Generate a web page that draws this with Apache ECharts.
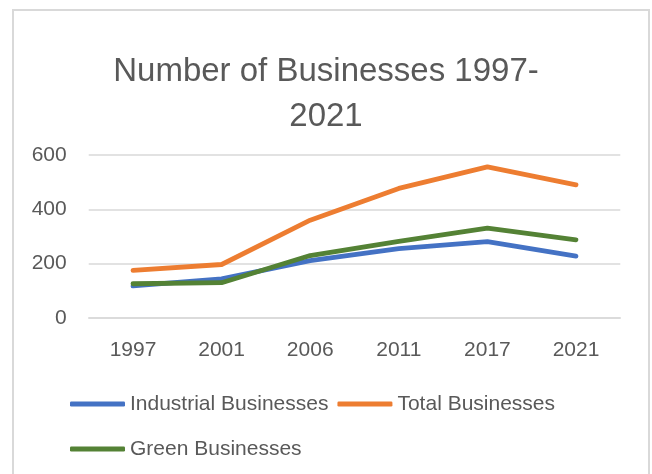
<!DOCTYPE html>
<html>
<head>
<meta charset="utf-8">
<style>
  html, body { margin: 0; padding: 0; background: #ffffff; }
  #chart { width: 652px; height: 474px; }
</style>
<script src="https://cdn.jsdelivr.net/npm/echarts@6/dist/echarts.min.js"></script>
</head>
<body>
<div id="chart"></div>
<script>
// Survey years on the category axis
const years = ['1997', '2001', '2006', '2011', '2017', '2021'];

// Business counts per survey year
const industrialBusinesses = [118, 144, 211, 255, 281, 228];
const totalBusinesses = [175, 197, 360, 477, 556, 490];
const greenBusinesses = [126, 130, 230, 282, 331, 288];

// Value axis range and step
const yMin = 0;
const yMax = 600;
const yStep = 200;

const FONT = '"Liberation Sans", Arial, sans-serif';
const TEXT = '#595959';
const GRID = '#D9D9D9';

const chart = echarts.init(document.getElementById('chart'), null, { renderer: 'canvas' });

function lineSeries(name, data, color) {
  return {
    name: name,
    type: 'line',
    data: data,
    symbol: 'none',
    smooth: false,
    lineStyle: { color: color, width: 4.8, cap: 'round', join: 'round' },
    itemStyle: { color: color },
    emphasis: { disabled: true }
  };
}

chart.setOption({
  animation: false,
  backgroundColor: '#ffffff',
  textStyle: { fontFamily: FONT },
  graphic: [{
    type: 'rect',
    shape: { x: 13, y: 10, width: 636, height: 480 },
    style: { fill: 'none', stroke: GRID, lineWidth: 2 },
    silent: true
  }],
  title: {
    text: 'Number of Businesses 1997-\n2021',
    left: 'center',
    top: 44,
    textStyle: {
      fontFamily: FONT,
      fontSize: 33,
      fontWeight: 'normal',
      color: TEXT,
      lineHeight: 45
    }
  },
  grid: {
    left: 88.7,
    right: 31.7,
    top: 155,
    bottom: 156,
    containLabel: false
  },
  xAxis: {
    type: 'category',
    data: years,
    boundaryGap: true,
    axisLine: { show: true, lineStyle: { color: GRID, width: 1.5 } },
    axisTick: { show: false },
    axisLabel: {
      color: TEXT,
      fontFamily: FONT,
      fontSize: 21,
      margin: 22
    }
  },
  yAxis: {
    type: 'value',
    min: yMin,
    max: yMax,
    interval: yStep,
    axisLine: { show: false },
    axisTick: { show: false },
    splitLine: { show: true, lineStyle: { color: GRID, width: 1.5 } },
    axisLabel: {
      color: TEXT,
      fontFamily: FONT,
      fontSize: 21,
      margin: 22
    }
  },
  legend: {
    show: true,
    orient: 'horizontal',
    left: 65,
    top: 381,
    width: 520,
    icon: 'roundRect',
    itemWidth: 55,
    itemHeight: 5,
    itemGap: 9,
    textStyle: {
      color: TEXT,
      fontFamily: FONT,
      fontSize: 21,
      lineHeight: 36
    },
    data: ['Industrial Businesses', 'Total Businesses', 'Green Businesses']
  },
  series: [
    lineSeries('Industrial Businesses', industrialBusinesses, '#4472C4'),
    lineSeries('Total Businesses', totalBusinesses, '#ED7D31'),
    lineSeries('Green Businesses', greenBusinesses, '#548235')
  ]
});
</script>
</body>
</html>
